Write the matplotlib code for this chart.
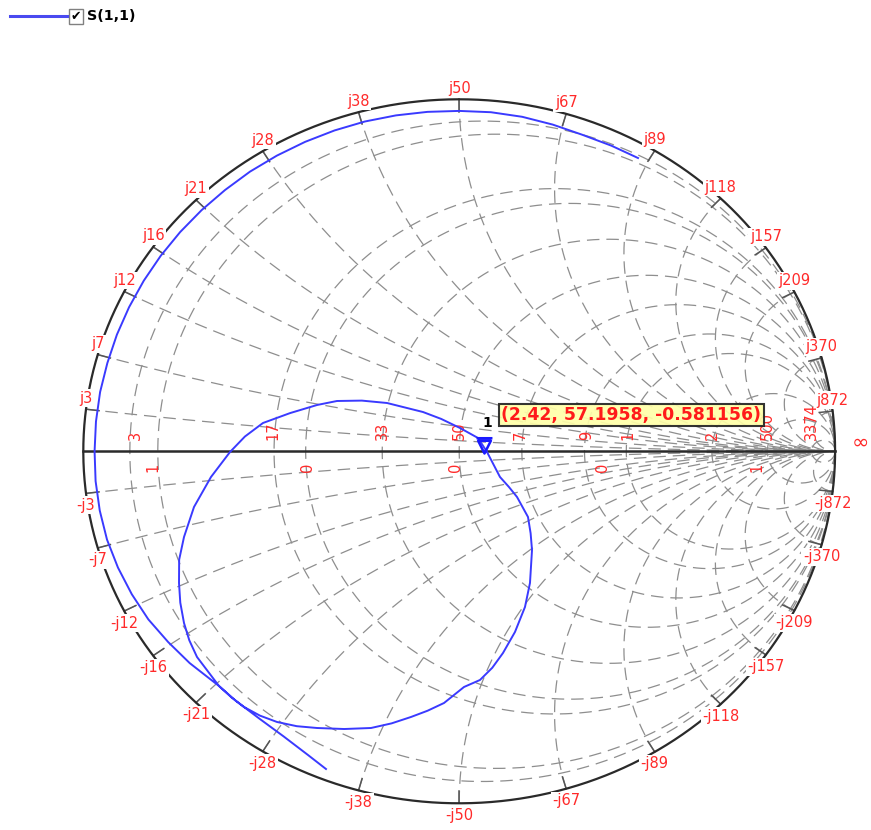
import numpy as np
import matplotlib.pyplot as plt
from matplotlib.path import Path
from matplotlib.lines import Line2D
from matplotlib.patches import Rectangle

plt.rcParams['font.family'] = ['DejaVu Sans']
plt.rcParams['lines.scale_dashes'] = False

Z0 = 50.0

# reactance arcs, labelled round the rim (ohms)
react_vals = [3, 7, 12, 16, 21, 28, 38, 50, 67, 89, 118, 157, 209, 370, 872]
# resistance circles (ohms)
resist_vals = [3.3, 5.5, 17, 21, 33, 50, 70, 100, 130, 255, 505, 1550]

# labels sitting on the real axis, with the resistance each one marks
axis_top_txt = ["3", "17", "33", "50", "7", "9", "1", "2", "500", "3374"]
axis_top_res = [3.7, 16.9, 33.0, 50.0, 69.3, 101.5, 131.5, 257.3, 508.0, 1558.0]
axis_bot_txt = ["1", "0", "0", "0", "1"]
axis_bot_res = [5.1, 21.2, 48.9, 111.3, 430.8]

# S(1,1) trace as reflection coefficient: outer sweep along the rim,
# the inner loop, then the tail towards -j38
s11_re = [0.4757, 0.4049, 0.3273, 0.2487, 0.1675, 0.0843, 0.0, -0.0844,
          -0.1682, -0.2510, -0.3317, -0.4099, -0.4850, -0.5564, -0.6229, -0.6852,
          -0.7423, -0.7938, -0.8392, -0.8782, -0.9106, -0.9360, -0.9553, -0.9663,
          -0.9700, -0.9673, -0.9562, -0.9369, -0.9078, -0.8710, -0.8270, -0.7741,
          -0.7170, -0.6390,
          -0.6060, -0.5725, -0.5300, -0.4847, -0.4320, -0.3783, -0.3060, -0.2346,
          -0.1800, -0.1282, -0.0840, -0.0404, 0.0128, 0.0553, 0.0880, 0.1165,
          0.1484, 0.1750, 0.1883, 0.1937, 0.1900, 0.1830, 0.1538, 0.1320,
          0.1085, 0.0740, 0.0500, 0.0021, -0.0480, -0.0963, -0.1921, -0.2590,
          -0.3251, -0.3783, -0.4500, -0.5220, -0.5700, -0.6097, -0.6603, -0.7055,
          -0.7321, -0.7450, -0.7454, -0.7420, -0.7321, -0.7180, -0.6975, -0.6390,
          -0.5946, -0.5317, -0.4675, -0.4023, -0.3544]
s11_im = [0.8332, 0.8682, 0.8993, 0.9282, 0.9503, 0.9633, 0.9670, 0.9643,
          0.9543, 0.9369, 0.9115, 0.8791, 0.8400, 0.7946, 0.7423, 0.6852,
          0.6229, 0.5558, 0.4845, 0.4095, 0.3314, 0.2508, 0.1684, 0.0846,
          0.0, -0.0847, -0.1686, -0.2510, -0.3304, -0.4061, -0.4775, -0.5421,
          -0.6017, -0.6668,
          -0.6990, -0.7264, -0.7510, -0.7690, -0.7810, -0.7861, -0.7890, -0.7861,
          -0.7730, -0.7548, -0.7370, -0.7151, -0.6696, -0.6497, -0.6150, -0.5730,
          -0.5133, -0.4423, -0.3741, -0.2804, -0.2330, -0.1866, -0.1298, -0.1010,
          -0.0730, -0.0020, 0.0378, 0.0662, 0.0920, 0.1116, 0.1372, 0.1440,
          0.1429, 0.1315, 0.1085, 0.0804, 0.0420, -0.0020, -0.0730, -0.1582,
          -0.2435, -0.3080, -0.3741, -0.4300, -0.4878, -0.5370, -0.5844, -0.6668,
          -0.7086, -0.7594, -0.8097, -0.8628, -0.9026]

# marker 1 readout: frequency (GHz), R, X (ohms)
mk_freq = 2.42
mk_r = 57.1958
mk_x = -0.581156

lbl_red = '#ff2a2a'
grid_col = '#8e8e8e'


def gamma(z):
    zn = np.asarray(z) / Z0
    return (zn - 1) / (zn + 1)


fig = plt.figure(figsize=(8.71, 8.30), dpi=100)
ax = fig.add_axes([0, 0, 1, 1])
ax.set_axis_off()
ax.set_xlim(-1.2216, 1.0955)
ax.set_ylim(-1.0759, 1.2821)

dash = (0, (9, 5))
t = np.tan(np.linspace(0, np.pi / 2 * 0.9995, 600))

# resistance circles
for R in resist_vals:
    xs = np.concatenate([-t[::-1], t]) * Z0
    g = gamma(R + 1j * xs)
    ax.plot(g.real, g.imag, color=grid_col, lw=0.9, ls=dash, zorder=1)

# reactance arcs, both signs, with their rim labels
for X in react_vals:
    for s in (1, -1):
        g = gamma(t * Z0 + 1j * s * X)
        ax.plot(g.real, g.imag, color=grid_col, lw=0.9, ls=dash, zorder=1)
        g0 = gamma(1j * s * X)
        ang = np.angle(g0)
        ax.plot([np.cos(ang), 0.965 * np.cos(ang)], [np.sin(ang), 0.965 * np.sin(ang)],
                color='#555555', lw=1.1, zorder=2)
        txt = ('j' if s > 0 else '-j') + str(X)
        ax.annotate(txt, (g0.real, g0.imag), xytext=(0, 11 if s > 0 else -12),
                    textcoords='offset pixels', ha='center', va='center',
                    color=lbl_red, fontsize=10.5, zorder=3,
                    bbox=dict(fc='white', ec='none', pad=1.0))

# rim and real axis
th = np.linspace(0, 2 * np.pi, 720)
ax.plot(np.cos(th), np.sin(th), color='#2a2a2a', lw=1.6, zorder=2)
ax.plot([-1, 1], [0, 0], color='#2a2a2a', lw=1.8, zorder=2)

# labels along the real axis
for txt, R in zip(axis_top_txt, axis_top_res):
    g = gamma(R)
    ax.annotate(txt, (g, 0), xytext=(0, 11), textcoords='offset pixels',
                rotation=90, rotation_mode='anchor', ha='left', va='center',
                color=lbl_red, fontsize=10.5, zorder=3)
for txt, R in zip(axis_bot_txt, axis_bot_res):
    g = gamma(R)
    ax.annotate(txt, (g, 0), xytext=(0, -11), textcoords='offset pixels',
                rotation=90, rotation_mode='anchor', ha='right', va='center',
                color=lbl_red, fontsize=10.5, zorder=3)

# infinity mark at the open-circuit end
ax.annotate('\u221e', (1, 0), xytext=(17, 9), textcoords='offset pixels',
            ha='left', va='center', color=lbl_red, fontsize=15, zorder=3)

# trace
ax.plot(s11_re, s11_im, color='#3a3aff', lw=1.4, zorder=4)

# marker 1
gm = gamma(mk_r + 1j * mk_x)
mk_path = Path([(-1.0, 2.0), (1.0, 2.0), (0.0, 0.0), (-1.0, 2.0),
                (-1.25, 2.4), (1.25, 2.4)],
               [Path.MOVETO, Path.LINETO, Path.LINETO, Path.CLOSEPOLY,
                Path.MOVETO, Path.LINETO])
ax.plot([gm.real], [gm.imag], marker=mk_path, ms=22, mfc='none', mec='#1a1aff',
        mew=1.8, zorder=5)
ax.annotate('1', (gm.real, gm.imag), xytext=(3, 30), textcoords='offset pixels',
            ha='center', va='center', fontsize=10, fontweight='bold', color='black',
            zorder=5)
ax.annotate('({}, {}, {})'.format(mk_freq, mk_r, mk_x), (gm.real, gm.imag),
            xytext=(147, 38), textcoords='offset pixels', ha='center', va='center',
            fontsize=12.4, fontweight='bold', color='#ff1a1a', zorder=6,
            bbox=dict(boxstyle='square,pad=0.14', fc='#ffffa8', ec='#222222',
                      lw=1.5, alpha=0.92))

# legend in the top-left corner
W, H = 871.0, 830.0
fig.add_artist(Line2D([10 / W, 67 / W], [1 - 16 / H, 1 - 16 / H], color='#4a4af0', lw=2.2))
fig.add_artist(Rectangle((69 / W, 1 - 24 / H), 14 / W, 15 / H, fc='white', ec='#808080',
                         lw=1.0, transform=fig.transFigure))
fig.text(76 / W, 1 - 16.5 / H, '\u2714', ha='center', va='center', fontsize=9, color='black')
fig.text(87 / W, 1 - 16.5 / H, 'S(1,1)', ha='left', va='center', fontsize=10.3,
         fontweight='bold', color='black')

fig.savefig('out.png', dpi=100)
